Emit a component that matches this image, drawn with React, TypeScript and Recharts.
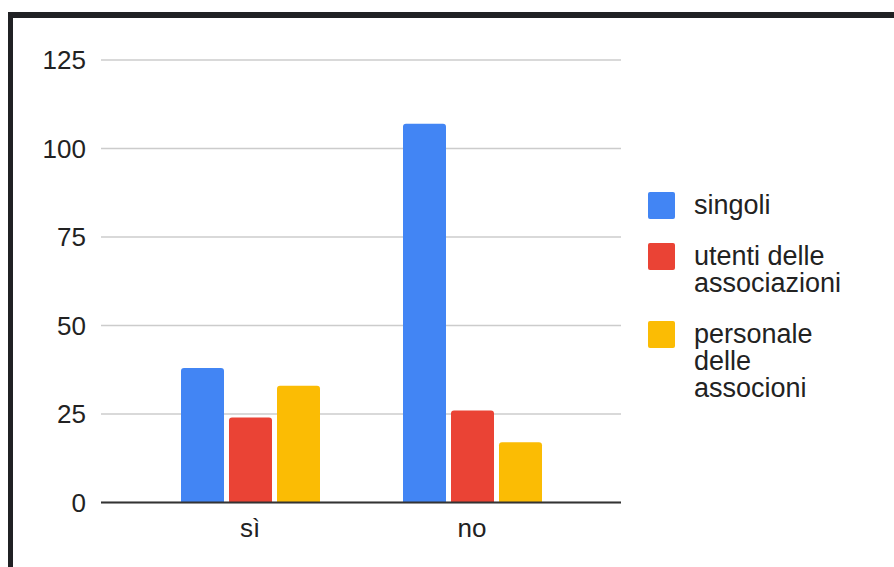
import React from 'react';
import { BarChart, Bar, XAxis, YAxis, CartesianGrid, Legend } from 'recharts';

// Answers grouped by response
const categories = ['sì', 'no'];
const singoli = [38, 107];
const utentiAssociazioni = [24, 26];
const personaleAssociazioni = [33, 17];
const yTicks = [0, 25, 50, 75, 100, 125];

const seriesNames = ['singoli', 'utenti delle associazioni', 'personale delle associoni'];
const seriesColors = ['#4285F4', '#EA4335', '#FBBC04'];

const data = categories.map((c, i) => ({
  name: c,
  singoli: singoli[i],
  utenti: utentiAssociazioni[i],
  personale: personaleAssociazioni[i],
}));

const FONT = "Arial, 'Liberation Sans', sans-serif";
const TEXT = '#222222';

// Legend items kept in series order
const LegendList = (props: any) => {
  const items = [...(props.payload || [])].sort(
    (a: any, b: any) => seriesNames.indexOf(a.value) - seriesNames.indexOf(b.value)
  );
  return (
    <div style={{ fontFamily: FONT, fontSize: 27, color: TEXT }}>
      {items.map((it: any) => (
        <div key={it.value} style={{ display: 'flex', alignItems: 'flex-start', marginBottom: 24 }}>
          <div
            style={{
              width: 27,
              height: 27,
              borderRadius: 2,
              background: it.color,
              flex: '0 0 auto',
              marginRight: 19,
            }}
          />
          <div style={{ lineHeight: '27px', width: 170 }}>{it.value}</div>
        </div>
      ))}
    </div>
  );
};

export default function App() {
  return (
    <div style={{ position: 'fixed', top: 12, left: 8 }}>
      <div
        style={{
          borderTop: '6px solid #202124',
          borderLeft: '5px solid #202124',
          width: 881,
          height: 549,
          background: '#ffffff',
        }}
      >
        <BarChart
          width={873}
          height={541}
          data={data}
          margin={{ top: 42, right: 265, left: 0, bottom: 26.5 }}
          barSize={43}
          barGap={5}
        >
          <CartesianGrid vertical={false} stroke="#cccccc" strokeWidth={1.5} />
          <XAxis
            dataKey="name"
            height={30}
            padding={{ left: 38, right: 38 }}
            axisLine={{ stroke: '#333333', strokeWidth: 2 }}
            tickLine={false}
            tickSize={0}
            tickMargin={16}
            tick={{ fill: TEXT, fontSize: 26, fontFamily: FONT }}
          />
          <YAxis
            width={88}
            domain={[0, 125]}
            ticks={yTicks}
            axisLine={false}
            tickLine={false}
            tickSize={0}
            tickMargin={15}
            tick={{ fill: TEXT, fontSize: 26, fontFamily: FONT }}
          />
          <Legend
            layout="vertical"
            align="center"
            verticalAlign="middle"
            content={LegendList}
            wrapperStyle={{ left: 635, top: 174, width: 230 }}
          />
          <Bar dataKey="singoli" name={seriesNames[0]} fill={seriesColors[0]} radius={[3, 3, 0, 0]} isAnimationActive={false} />
          <Bar dataKey="utenti" name={seriesNames[1]} fill={seriesColors[1]} radius={[3, 3, 0, 0]} isAnimationActive={false} />
          <Bar dataKey="personale" name={seriesNames[2]} fill={seriesColors[2]} radius={[3, 3, 0, 0]} isAnimationActive={false} />
        </BarChart>
      </div>
    </div>
  );
}
